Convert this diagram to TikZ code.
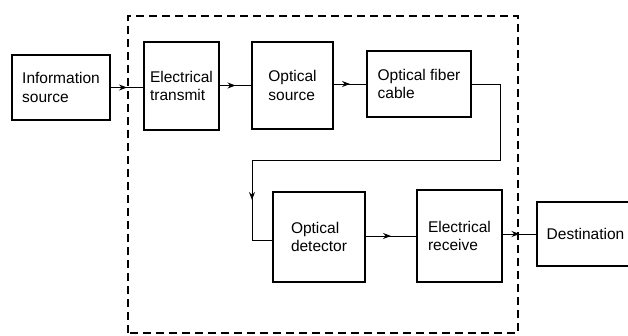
\documentclass[tikz,border=0pt]{standalone}
\usepackage{fontspec}
\setmainfont{Liberation Sans}
\usetikzlibrary{arrows.meta,decorations.markings}
\tikzset{
  blk/.style={draw, line width=1.8pt, inner sep=0pt, align=left,
    font=\fontsize{15.5}{18.5}\selectfont, text=black},
  conn/.style={draw, line width=1pt},
  midarrow/.style={conn, postaction={decorate}, decoration={markings,
    mark=at position 0.5 with {\arrow{Stealth[length=8pt,width=6pt]}}}},
  dashbox/.style={draw, line width=1.3pt, dash pattern=on 8pt off 5pt}
}
\begin{document}
\begin{tikzpicture}[x=1pt,y=-1pt]
\useasboundingbox (0,0) rectangle (628,335);
\draw[dashbox] (128,333) -- (128,16) -- (518,16) -- (518,333) -- cycle;
\node[blk, minimum width=98, minimum height=65] (info) at (61,87.5) {Information\\source};
\node[blk, minimum width=75, minimum height=88] (elec) at (181.5,86) {Electrical\\transmit};
\node[blk, minimum width=81, minimum height=87] (osrc) at (292.5,85.5) {Optical\\source};
\node[blk, minimum width=104, minimum height=66] (fiber) at (419,84) {Optical fiber\\cable};
\node[blk, minimum width=92, minimum height=90] (det) at (319,237) {Optical\\detector};
\node[blk, minimum width=85, minimum height=92] (rec) at (459.5,236) {Electrical\\receive};
\node[blk, minimum width=97, minimum height=64] (dest) at (585.5,234) {Destination};
\coordinate (c1) at (500,160);
\coordinate (c2) at (252,160);
\coordinate (c3) at (252,240);
\draw[midarrow] (info.east) -- (elec.west |- info.east);
\draw[midarrow] (elec.east |- osrc.west) -- (osrc.west);
\draw[midarrow] (osrc.east |- fiber.west) -- (fiber.west);
\draw[conn] (fiber.east) -| (c1) -- (c2);
\draw[midarrow] (c2) -- (c3);
\draw[conn] (c3) -- (det.west |- c3);
\draw[midarrow] (det.east |- rec.west) -- (rec.west);
\draw[midarrow] (rec.east |- dest.west) -- (dest.west);
\end{tikzpicture}
\end{document}
